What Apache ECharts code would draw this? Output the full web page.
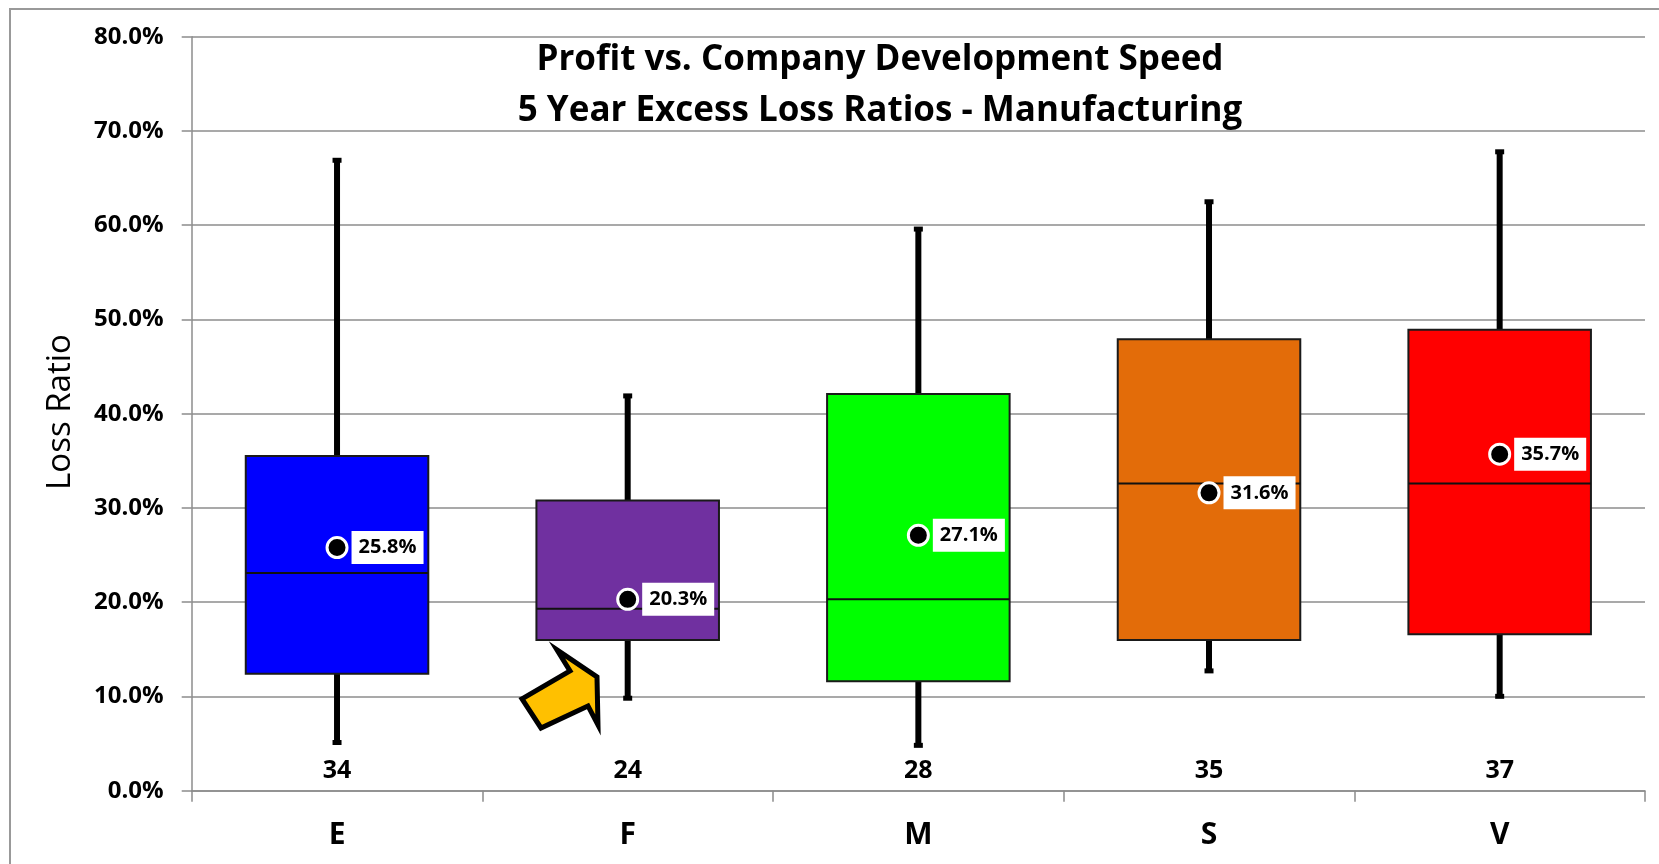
<!DOCTYPE html>
<html>
<head>
<meta charset="utf-8">
<title>Profit vs. Company Development Speed</title>
<script src="https://cdn.jsdelivr.net/npm/echarts@6/dist/echarts.min.js"></script>
<style>
  html, body { margin: 0; padding: 0; background: #fff; }
  #chart { width: 1659px; height: 864px; }
</style>
</head>
<body>
<div id="chart"></div>
<script>
// Development-speed groups
const categories = ['E', 'F', 'M', 'S', 'V'];
// Five-number summaries of 5-year excess loss ratios (%)
const whiskerLow  = [4.9, 9.6, 4.6, 12.5, 9.8];
const quartile1   = [12.4, 16.0, 11.6, 16.0, 16.6];
const medians     = [23.1, 19.3, 20.3, 32.6, 32.6];
const quartile3   = [35.5, 30.8, 42.1, 47.9, 48.9];
const whiskerHigh = [67.1, 42.1, 59.8, 62.7, 68.0];
// Group means (%) and company counts
const means  = [25.8, 20.3, 27.1, 31.6, 35.7];
const counts = [34, 24, 28, 35, 37];
// Value-axis ticks (%)
const yTicks = [0, 10, 20, 30, 40, 50, 60, 70, 80];

const boxColors = ['#0000FF', '#7030A0', '#00FF00', '#E36C09', '#FF0000'];
const FONT = '"Open Sans", "DejaVu Sans", sans-serif';
const GRID_COLOR = '#8c8c8c';
const COUNT_LABEL_LEVEL = 2.1; // height (in %) at which the count labels sit

const boxData = categories.map((c, i) =>
  [i, whiskerLow[i], quartile1[i], medians[i], quartile3[i], whiskerHigh[i]]);
const meanData = categories.map((c, i) => [i, means[i]]);
const countData = categories.map((c, i) => [i, COUNT_LABEL_LEVEL, counts[i]]);

function renderBox(params, api) {
  const x = api.value(0);
  const lo = api.coord([x, api.value(1)]);
  const q1 = api.coord([x, api.value(2)]);
  const md = api.coord([x, api.value(3)]);
  const q3 = api.coord([x, api.value(4)]);
  const hi = api.coord([x, api.value(5)]);
  const bw = api.size([1, 0])[0] * 0.628;
  const cx = lo[0];
  const whisker = { stroke: '#000', lineWidth: 6 };
  return {
    type: 'group',
    children: [
      { type: 'line', shape: { x1: cx, y1: q3[1], x2: cx, y2: hi[1] + 2 }, style: whisker },
      { type: 'line', shape: { x1: cx, y1: q1[1], x2: cx, y2: lo[1] - 2 }, style: whisker },
      { type: 'rect', shape: { x: cx - 4.5, y: hi[1] - 0.5, width: 9, height: 5 }, style: { fill: '#000' } },
      { type: 'rect', shape: { x: cx - 4.5, y: lo[1] - 4.5, width: 9, height: 5 }, style: { fill: '#000' } },
      { type: 'rect',
        shape: { x: cx - bw / 2, y: q3[1], width: bw, height: q1[1] - q3[1] },
        style: { fill: boxColors[params.dataIndex], stroke: '#1a1a1a', lineWidth: 2 } },
      { type: 'line',
        shape: { x1: cx - bw / 2, y1: md[1], x2: cx + bw / 2, y2: md[1] },
        style: { stroke: '#111', lineWidth: 2 } }
    ]
  };
}

// Count labels are drawn as plain text at each group's position
function renderCount(params, api) {
  const p = api.coord([api.value(0), api.value(1)]);
  return {
    type: 'text',
    x: p[0], y: p[1],
    style: {
      text: String(api.value(2)),
      font: 'bold 25px ' + FONT,
      fill: '#000',
      textAlign: 'center', textVerticalAlign: 'middle'
    }
  };
}

const chart = echarts.init(document.getElementById('chart'), null, { renderer: 'canvas' });

const option = {
  animation: false,
  backgroundColor: '#fff',
  textStyle: { fontFamily: FONT },
  title: {
    text: 'Profit vs. Company Development Speed\n5 Year Excess Loss Ratios - Manufacturing',
    left: 875,
    textAlign: 'center',
    top: 30,
    textStyle: { fontFamily: FONT, fontSize: 35, fontWeight: 'bold', color: '#000', lineHeight: 51 }
  },
  grid: { left: 191.7, right: 14, top: 36.7, bottom: 73.3 },
  xAxis: {
    type: 'category',
    data: categories,
    boundaryGap: true,
    axisLine: { lineStyle: { color: GRID_COLOR, width: 1.5 } },
    axisTick: { show: true, length: 11, alignWithLabel: false, lineStyle: { color: GRID_COLOR, width: 1.5 } },
    axisLabel: { margin: 30, fontFamily: FONT, fontSize: 30, fontWeight: 'bold', color: '#000' },
    splitLine: { show: false }
  },
  yAxis: {
    type: 'value',
    min: yTicks[0],
    max: yTicks[yTicks.length - 1],
    interval: yTicks[1] - yTicks[0],
    axisLine: { show: true, lineStyle: { color: GRID_COLOR, width: 1.5 } },
    axisTick: { show: true, length: 10, lineStyle: { color: GRID_COLOR, width: 1.5 } },
    axisLabel: {
      margin: 28, fontFamily: FONT, fontSize: 24, fontWeight: 'bold', color: '#000',
      formatter: v => v.toFixed(1) + '%'
    },
    splitLine: { show: true, lineStyle: { color: GRID_COLOR, width: 1.5 } }
  },
  graphic: [
    { id: 'frame', type: 'rect', z: -10, silent: true,
      shape: { x: 10, y: 9, width: 1700, height: 900 },
      style: { fill: 'none', stroke: '#999', lineWidth: 2 } },
    { id: 'yname', type: 'text', x: 61, y: 412, rotation: Math.PI / 2,
      style: { text: 'Loss Ratio', font: '33px ' + FONT, fill: '#000',
               textAlign: 'center', textVerticalAlign: 'middle' } }
  ],
  series: [
    {
      name: 'Loss ratio spread',
      type: 'custom',
      renderItem: renderBox,
      encode: { x: 0, y: [1, 2, 3, 4, 5] },
      data: boxData,
      z: 2
    },
    {
      name: 'Mean',
      type: 'scatter',
      data: meanData,
      symbol: 'circle',
      symbolSize: 20,
      itemStyle: { color: '#000', borderColor: '#fff', borderWidth: 3, opacity: 1 },
      label: {
        show: true, position: 'right', distance: 3,
        formatter: p => p.value[1].toFixed(1) + '%',
        backgroundColor: '#fff', padding: [6, 7, 6, 7],
        fontFamily: FONT, fontSize: 20, fontWeight: 'bold', color: '#000', lineHeight: 21
      },
      z: 5
    },
    {
      name: 'Count',
      type: 'custom',
      renderItem: renderCount,
      encode: { x: 0, y: 1 },
      data: countData,
      z: 4
    }
  ]
};

chart.setOption(option);

// Yellow callout arrow pointing at the F box, anchored to the F / 10% position
const arrowOutline = [
  [-105.7, 2.5], [-57.7, -25.5], [-70.7, -46.5], [-30.7, -19.5],
  [-29.7, 28.5], [-39.7, 9.5], [-86.7, 31.5]
];
const anchor = chart.convertToPixel({ gridIndex: 0 }, [1, 10]);
chart.setOption({
  graphic: [
    { id: 'arrow', type: 'polygon', z: 10,
      shape: { points: arrowOutline.map(([dx, dy]) => [anchor[0] + dx, anchor[1] + dy]) },
      style: { fill: '#FFC000', stroke: '#000', lineWidth: 5, lineJoin: 'miter' } }
  ]
});
</script>
</body>
</html>
